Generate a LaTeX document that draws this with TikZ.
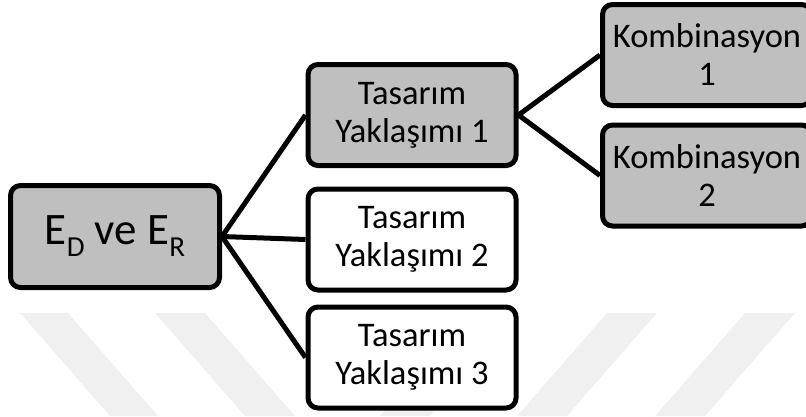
\documentclass[tikz,border=0pt]{standalone}
\usepackage{fontspec}
\setmainfont{Carlito}
\definecolor{boxgray}{HTML}{BFBFBF}
\definecolor{wm}{HTML}{F0F0F0}
\begin{document}
\begin{tikzpicture}[x=1pt,y=-1pt,
  box/.style={draw=black, line width=5pt, rounded corners=10pt, minimum width=208pt, minimum height=101pt, align=center, inner sep=0pt, font=\fontsize{34.5}{38}\selectfont, text=black},
  grayfill/.style={box, fill=boxgray},
  whitefill/.style={box, fill=white},
  conn/.style={draw=black, line width=5pt}]
\useasboundingbox (0,0) rectangle (806,416);
% faint watermark stripes
\fill[wm] (20,313) -- (68,313) -- (158,416) -- (110,416) -- cycle;
\fill[wm] (155,313) -- (205,313) -- (295,416) -- (245,416) -- cycle;
\fill[wm] (470,313) -- (520,313) -- (430,416) -- (380,416) -- cycle;
\fill[wm] (607,313) -- (657,313) -- (567,416) -- (517,416) -- cycle;
\fill[wm] (745,313) -- (795,313) -- (705,416) -- (655,416) -- cycle;
% nodes
\node[grayfill, minimum width=209pt, minimum height=102pt] (root) at (115,236.5)
  {\fontsize{45}{50}\selectfont E\raisebox{-12pt}{\fontsize{29}{29}\selectfont D} ve E\raisebox{-12pt}{\fontsize{29}{29}\selectfont R}};
\node[grayfill] (t1) at (412,115) {Tasarım\\Yaklaşımı 1};
\node[whitefill] (t2) at (412,239.5) {Tasarım\\Yaklaşımı 2};
\node[whitefill] (t3) at (412,357.5) {Tasarım\\Yaklaşımı 3};
\node[grayfill, minimum width=209pt] (k1) at (707,55) {Kombinasyon\\1};
\node[grayfill, minimum width=209pt] (k2) at (707,175.5) {Kombinasyon\\2};
% connectors
\draw[conn] (root.east) -- (t1.west);
\draw[conn] (root.east) -- (t2.west);
\draw[conn] (root.east) -- (t3.west);
\draw[conn] (t1.east) -- (k1.west);
\draw[conn] (t1.east) -- (k2.west);
\end{tikzpicture}
\end{document}
